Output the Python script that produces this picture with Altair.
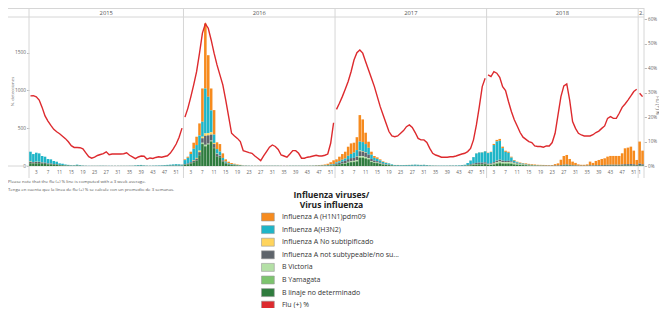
import altair as alt
import pandas as pd

# ---------------- data ----------------
years = [2015, 2016, 2017, 2018, 2019]
weeks_in_year = [53, 52, 52, 52, 2]
year_labels = ["2015", "2016", "2017", "2018", "2."]
week_ticks = [3, 7, 11, 15, 19, 23, 27, 31, 35, 39, 43, 47, 51]
week_ticks_2019 = [1]

categories = [
    "Influenza A (H1N1)pdm09",
    "Influenza A(H3N2)",
    "Influenza A No subtipificado",
    "Influenza A not subtypeable/no su...",
    "\u00a0B Victoria",
    "\u00a0B Yamagata",
    "B linaje no determinado",
    "Flu (+) %",
]
colors = ["#F68B1F", "#1FB5C7", "#FFD45C", "#5E646B", "#B4E0A6", "#7DC46E", "#2F7C3E", "#DD2A2E"]
stack_rank = [7, 6, 5, 4, 3, 2, 1]  # H1N1 on top, B linaje at the bottom

# ---- 2015 (53 weeks)
h1n1_2015 = [0,0,0,0,0,0,0,0,0,0, 0,0,0,0,0,0,0,0,0,0, 0,0,0,0,0,0,0,0,0,0,
             0,0,0,0,0,0,0,0,0,0, 0,0,0,0,0,0,0,0,0,1, 2,2,2]
h3n2_2015 = [130,105,120,112,85,80,58,55,40,33, 20,17,11,8,5,5,10,7,3,2, 2,1,1,1,2,2,1,2,1,1,
             1,1,1,1,2,2,5,8,9,5, 3,2,3,4,5,6,8,10,12,15, 18,16,13]
nosub_2015 = [5,3,3,2,2,1,1,1,0,0, 0,0,0,0,0,0,0,0,0,0, 0,0,0,0,0,0,0,0,0,0,
              0,0,0,0,0,0,0,0,0,0, 0,0,0,0,0,0,0,0,0,0, 0,0,0]
notsub_2015 = [18,17,18,17,15,14,10,10,8,7, 5,4,3,2,2,2,3,2,1,1, 1,1,1,1,1,1,1,1,1,1,
               1,1,1,1,1,1,1,2,2,1, 1,1,1,1,1,2,2,2,3,3, 3,3,3]
vic_2015 = [0,0,0,0,0,0,0,0,0,0, 0,0,0,0,0,0,0,0,0,0, 0,0,0,0,0,0,0,0,0,0,
            0,0,0,0,0,0,0,0,0,0, 0,0,0,0,0,0,0,0,0,0, 0,0,0]
yam_2015 = [0,0,0,0,0,0,0,0,0,0, 0,0,0,0,0,0,0,0,0,0, 0,0,0,0,0,0,0,0,0,0,
            0,0,0,0,0,0,0,0,0,0, 0,0,0,0,0,0,0,0,0,0, 0,0,0]
bnd_2015 = [36,33,35,36,30,28,23,22,18,17, 10,9,6,5,3,3,5,3,2,1, 0,1,1,1,1,1,1,0,1,1,
            1,1,1,1,1,1,2,2,3,2, 1,1,1,1,1,1,2,3,3,3, 3,3,2]
flu_2015 = [28.7,28.8,28.3,27.0,24.0,20.5,18.4,16.6,15.0,14.0,
            13.2,12.2,11.2,9.9,8.3,7.6,7.6,7.5,7.0,5.4,
            3.8,3.2,3.6,4.3,4.7,5.1,5.8,4.6,4.9,4.9,
            4.9,4.9,5.0,5.4,4.4,3.7,3.0,3.7,4.1,4.0,
            2.8,3.3,3.1,3.5,3.8,3.6,3.9,4.2,5.3,7.0,
            9.0,11.8,15.5]

# ---- 2016 (52 weeks)
h1n1_2016 = [10,15,30,80,110,160,440,860,550,290, 324,90,100,60,30,20,15,10,6,4,
             2,1,1,1,1,1,1,1,1,1, 1,1,1,1,1,1,1,1,1,1, 1,1,1,2,2,4,5,7,10,16, 30,48]
h3n2_2016 = [55,75,110,150,170,200,198,594,480,290, 110,60,50,30,15,10,8,6,4,3,
             2,2,2,2,1,1,2,2,2,2, 2,2,2,1,1,1,2,2,2,2, 2,2,2,2,3,3,3,3,4,5, 7,10]
nosub_2016 = [0,0,0,8,10,20,20,30,30,30, 15,5,4,2,1,1,0,0,0,0,
              0,0,0,0,0,0,0,0,0,0, 0,0,0,0,0,0,0,0,0,0, 0,0,0,0,0,0,0,0,0,0, 0,0]
notsub_2016 = [8,10,15,20,27,40,60,120,110,80, 50,30,20,17,10,7,5,4,3,2,
               1,1,1,1,1,1,1,1,1,1, 1,1,1,1,1,1,1,1,1,1, 1,1,1,1,1,2,2,2,3,4, 6,8]
vic_2016 = [0,0,0,0,0,0,8,10,5,5, 0,0,0,0,0,0,0,0,0,0,
            0,0,0,0,0,0,0,0,0,0, 0,0,0,0,0,0,0,0,0,0, 0,0,0,0,0,0,0,0,0,0, 0,0]
yam_2016 = [0,0,0,0,0,0,9,10,5,5, 4,0,0,0,0,0,0,0,0,0,
            0,0,0,0,0,0,0,0,0,0, 0,0,0,0,0,0,0,0,0,0, 0,0,0,0,0,0,0,0,0,0, 0,0]
bnd_2016 = [15,23,34,50,70,143,290,260,285,325, 236,128,116,58,32,19,12,10,7,6,
            2,2,1,1,1,1,1,1,1,1, 1,1,1,1,1,1,1,1,1,1, 1,1,1,1,1,1,2,3,3,5, 7,9]
flu_2016 = [20.0,23.6,28.2,33.2,38.6,46.2,54.4,58.2,56.4,51.6,
            46.2,41.4,37.3,33.2,27.0,20.2,13.4,12.3,11.3,10.0,
            6.3,5.9,5.5,5.2,4.1,3.2,2.2,4.1,5.9,7.7,
            8.6,8.0,6.8,4.5,4.1,3.6,4.9,6.3,6.3,5.2,
            3.2,3.2,3.6,3.8,4.1,4.4,4.1,4.1,4.4,4.9,
            9.3,17.7]

# ---- 2017 (52 weeks)
h1n1_2017 = [40,60,75,90,120,140,130,170,350,300, 150,80,40,25,20,15,8,5,2,1,
             1,1,1,1,1,1,1,1,1,1, 1,1,1,1,1,0,0,0,0,1, 1,1,1,1,1,1,2,2,3,3, 4,5]
h3n2_2017 = [15,20,25,30,45,55,70,85,120,120, 110,90,55,35,30,25,20,18,15,10,
             8,8,7,8,9,10,12,14,12,10, 12,8,5,4,3,3,3,3,3,4, 4,5,6,8,12,25,50,85,125,135, 135,145]
nosub_2017 = [0,0,0,0,0,0,0,3,8,6, 5,0,0,0,0,0,0,0,0,0,
              0,0,0,0,0,0,0,0,0,0, 0,0,0,0,0,0,0,0,0,0, 0,0,0,0,0,0,0,0,0,0, 0,0]
notsub_2017 = [15,20,25,30,35,40,40,45,65,60, 55,45,30,20,18,14,9,6,5,3,
               2,2,2,2,2,2,2,2,2,2, 2,2,1,1,1,1,1,1,1,1, 1,1,1,2,2,6,9,13,16,17, 17,18]
vic_2017 = [0,0,2,3,5,8,8,10,12,12, 10,10,6,5,4,3,2,1,1,0,
            0,0,0,0,0,0,0,0,0,0, 0,0,0,0,0,0,0,0,0,0, 0,0,0,0,0,1,1,2,2,2, 2,2]
yam_2017 = [0,0,1,5,5,6,8,8,10,10, 10,8,6,5,4,3,2,1,1,0,
            0,0,0,0,0,0,0,0,0,0, 0,0,0,0,0,0,0,0,0,0, 0,0,0,0,0,1,2,2,3,3, 3,3]
bnd_2017 = [18,23,30,31,45,50,52,60,108,108, 100,88,52,42,38,28,20,15,12,8,
            3,3,2,2,2,2,2,2,2,2, 2,2,2,1,1,1,1,1,1,1, 1,1,1,2,2,6,10,15,20,22, 22,25]
flu_2017 = [23.2,25.7,28.4,31.4,34.6,38.6,43.4,46.4,47.5,46.2,
            42.7,39.3,35.9,32.5,28.4,24.3,20.9,17.5,14.1,12.3,
            12.0,12.3,13.4,14.5,16.1,16.8,15.8,13.7,11.3,10.7,
            10.7,9.6,7.2,5.2,4.5,4.1,3.6,3.6,3.6,3.8,
            3.8,4.1,4.5,4.9,5.2,5.9,7.2,10.7,16.8,24.3,
            32.5,35.9]

# ---- 2018 (52 weeks)
h1n1_2018 = [5,5,15,20,25,20,15,15,12,10, 8,8,8,8,10,9,8,7,7,7,
             7,6,8,18,28,70,115,125,78,47, 32,16,12,12,16,48,33,56,68,80,
             88,108,116,116,116,116,148,210,218,230, 180,65]
h3n2_2018 = [140,150,225,255,250,165,120,105,50,22, 12,8,6,5,3,2,2,1,1,1,
             1,1,1,1,1,1,1,1,1,1, 1,1,1,1,1,1,1,1,1,1, 1,1,1,1,1,1,1,1,1,1, 1,1]
nosub_2018 = [0,0,2,2,2,1,0,0,0,0, 0,0,0,0,0,0,0,0,0,0,
              0,0,0,0,0,0,0,0,0,0, 0,0,0,0,0,0,0,0,0,0, 0,0,0,0,0,0,0,0,0,0, 0,0]
notsub_2018 = [12,13,18,20,22,20,18,17,14,10, 8,7,6,5,4,4,3,3,3,3,
               3,3,3,5,5,8,10,12,8,6, 5,3,2,2,3,6,5,7,8,9, 10,11,12,12,12,12,14,17,18,19, 16,10]
vic_2018 = [3,4,6,8,10,10,10,10,10,7, 5,4,3,3,2,2,1,1,1,0,
            0,0,0,0,0,0,0,0,0,0, 0,0,0,0,0,0,0,0,0,0, 0,0,0,0,0,0,0,0,0,0, 0,0]
yam_2018 = [3,3,6,10,12,10,10,12,10,10, 8,6,5,4,3,2,2,1,1,1,
            0,0,0,0,0,0,0,0,0,0, 0,0,0,0,0,0,0,0,0,0, 0,0,0,0,0,0,0,0,0,0, 0,0]
bnd_2018 = [13,14,20,30,37,30,29,30,27,20, 16,13,12,10,6,5,4,3,2,2,
            1,1,1,1,1,4,6,8,6,4, 3,1,1,1,1,3,2,3,3,3, 3,4,4,4,4,4,5,6,6,6, 6,4]
flu_2018 = [37.3,36.6,38.6,38.0,36.3,32.5,30.9,26.4,22.3,18.9,
            16.4,13.7,11.8,10.9,10.0,9.6,8.2,8.0,8.0,7.7,
            8.2,8.2,9.6,13.4,20.9,28.4,32.8,33.6,27.0,18.2,
            15.4,13.4,12.7,12.3,12.3,12.3,12.8,13.7,14.3,15.4,
            16.4,19.5,20.2,19.5,19.5,21.6,24.0,25.4,27.0,28.7,
            30.5,31.4]

# ---- 2019 (2 weeks)
h1n1_2019 = [290, 180]
h3n2_2019 = [2, 1]
nosub_2019 = [0, 0]
notsub_2019 = [22, 16]
vic_2019 = [0, 0]
yam_2019 = [0, 0]
bnd_2019 = [9, 6]
flu_2019 = [29.8, 28.4]

counts = {
    2015: [h1n1_2015, h3n2_2015, nosub_2015, notsub_2015, vic_2015, yam_2015, bnd_2015],
    2016: [h1n1_2016, h3n2_2016, nosub_2016, notsub_2016, vic_2016, yam_2016, bnd_2016],
    2017: [h1n1_2017, h3n2_2017, nosub_2017, notsub_2017, vic_2017, yam_2017, bnd_2017],
    2018: [h1n1_2018, h3n2_2018, nosub_2018, notsub_2018, vic_2018, yam_2018, bnd_2018],
    2019: [h1n1_2019, h3n2_2019, nosub_2019, notsub_2019, vic_2019, yam_2019, bnd_2019],
}
flu = {2015: flu_2015, 2016: flu_2016, 2017: flu_2017, 2018: flu_2018, 2019: flu_2019}

# ---------------- tables ----------------
offsets = []
acc = 0
for n in weeks_in_year:
    offsets.append(acc)
    acc += n
total_weeks = acc

bar_rows, line_rows, tick_rows, head_rows = [], [], [], []
for yi, yr in enumerate(years):
    off = offsets[yi]
    for ci in range(7):
        vals = counts[yr][ci]
        for w, v in enumerate(vals, start=1):
            i = off + w - 1
            bar_rows.append({"start": i + 0.06, "end": i + 0.94, "category": categories[ci],
                             "value": v, "rank": stack_rank[ci]})
    for w, p in enumerate(flu[yr], start=1):
        line_rows.append({"mid": off + w - 0.5, "pct": p, "year": str(yr)})
    for w in (week_ticks if yr != 2019 else week_ticks_2019):
        tick_rows.append({"mid": off + w - 0.5, "lab": str(w)})
    if yr != 2019:
        head_rows.append({"center": off + weeks_in_year[yi] / 2, "lab": year_labels[yi]})

bars_df = pd.DataFrame(bar_rows)
line_df = pd.DataFrame(line_rows)
tick_df = pd.DataFrame(tick_rows)
head_df = pd.DataFrame(head_rows)
head19_df = pd.DataFrame({"pos": [offsets[-1] + 0.3], "lab": [year_labels[-1]]})
sep_df = pd.DataFrame({"pos": offsets + [total_weeks]})
one = pd.DataFrame({"a": [0]})

W, H = 615, 149
xs = alt.Scale(domain=[0, total_weeks], nice=False, zero=False)
FONT = "Open Sans"
GRID = "#d6d6d6"

# ---------------- layers ----------------
hlines = [
    alt.Chart(one).mark_rule(color=GRID, strokeWidth=1).encode(
        x=alt.value(-21), x2=alt.value(W), y=alt.value(yv))
    for yv in (-8.5, 0, H)
]

vsep = alt.Chart(sep_df).mark_rule(color=GRID, strokeWidth=1).encode(
    x=alt.X("pos:Q", scale=xs, axis=None), y=alt.value(-9), y2=alt.value(161))

bars = alt.Chart(bars_df).transform_stack(
    stack="value", as_=["v0", "v1"], groupby=["start"],
    sort=[alt.SortField("rank", order="ascending")],
).mark_bar().encode(
    x=alt.X("start:Q", scale=xs, axis=None),
    x2="end:Q",
    y=alt.Y("v0:Q",
            scale=alt.Scale(domain=[0, 1970], nice=False),
            axis=alt.Axis(values=[0, 500, 1000, 1500], format="d", grid=False, domain=False,
                          tickSize=2.5, tickColor="#bbbbbb", labelFontSize=4.8,
                          labelColor="#666666", labelPadding=1,
                          title="N. detecciones", titleFontSize=4.3,
                          titleFontWeight="normal", titleColor="#666666",
                          titleX=-15, titleY=74)),
    y2="v1:Q",
    color=alt.Color("category:N",
                    scale=alt.Scale(domain=categories, range=colors),
                    legend=alt.Legend(
                        orient="none", legendX=234.4, legendY=174, direction="vertical",
                        title=["Influenza viruses/", "Virus influenza"],
                        titleFontSize=8.5, titleFontWeight="bold", titleColor="#222222",
                        titleAnchor="middle", titleAlign="center", titleLineHeight=10,
                        titlePadding=3, labelFontSize=7, labelColor="#333333",
                        labelOffset=9.5, labelLimit=300,
                        symbolType="M-1.6,-1H1.6V1H-1.6Z", symbolSize=64,
                        symbolStrokeColor="#9a9a9a", symbolStrokeWidth=0.6,
                        symbolOpacity=1, rowPadding=1.6, padding=0)),
)

line = alt.Chart(line_df).mark_line(color="#DD2A2E", strokeWidth=1.4).encode(
    x=alt.X("mid:Q", scale=xs, axis=None),
    y=alt.Y("pct:Q", scale=alt.Scale(domain=[0, 61], nice=False),
            axis=alt.Axis(orient="right", values=[0, 10, 20, 30, 40, 50, 60],
                          labelExpr="datum.value + '%'", grid=False, domain=False,
                          tickSize=2.5, tickColor="#bbbbbb", labelFontSize=4.6,
                          labelColor="#666666", labelPadding=1,
                          title="Flu (+) %", titleFontSize=4.8, titleFontWeight="normal",
                          titleColor="#666666", titleX=10, titleY=88)),
    detail="year:N",
)

ticks = alt.Chart(tick_df).mark_text(fontSize=4.6, color="#666666", baseline="middle").encode(
    x=alt.X("mid:Q", scale=xs, axis=None), y=alt.value(155.5), text="lab:N")

heads = alt.Chart(head_df).mark_text(fontSize=5.8, color="#555555", baseline="middle").encode(
    x=alt.X("center:Q", scale=xs, axis=None), y=alt.value(-4.5), text="lab:N")

head19 = alt.Chart(head19_df).mark_text(fontSize=5.8, color="#555555", baseline="middle",
                                        align="left").encode(
    x=alt.X("pos:Q", scale=xs, axis=None), y=alt.value(-4.5), text="lab:N")

note1 = alt.Chart(pd.DataFrame({"t": ["Please note that the flu (+) % line is computed with a 3 week average."]})
                  ).mark_text(fontSize=4.3, color="#555555", align="left", baseline="middle").encode(
    x=alt.value(-21), y=alt.value(165), text="t:N")
note2 = alt.Chart(pd.DataFrame({"t": ["Tenga en cuenta que la línea de flu (+) % se calcule con un promedio de 3 semanas."]})
                  ).mark_text(fontSize=4.3, color="#555555", align="left", baseline="middle").encode(
    x=alt.value(-21), y=alt.value(173), text="t:N")

chart = alt.layer(*hlines, vsep, bars, line, ticks, heads, head19, note1, note2).resolve_scale(
    y="independent"
).properties(
    width=W, height=H,
    padding={"left": 21, "top": 9, "right": 15, "bottom": 142},
    autosize=alt.AutoSizeParams(type="none"),
).configure(font=FONT).configure_view(stroke=None)

chart.save("out.html", embed_options={"renderer": "svg", "actions": False})
